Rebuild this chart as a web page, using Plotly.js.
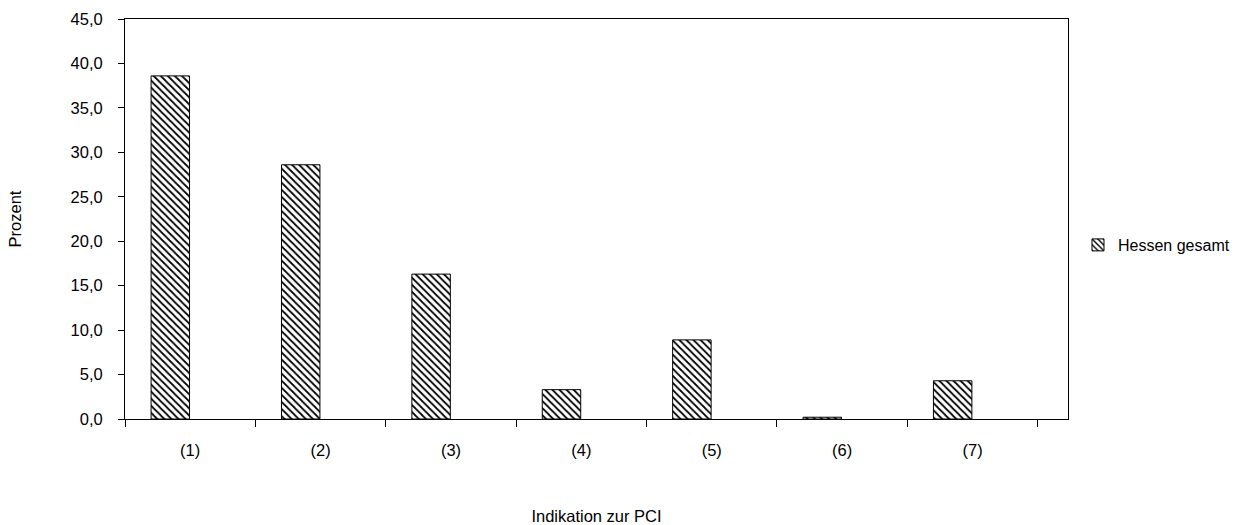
<!DOCTYPE html>
<html>
<head>
<meta charset="utf-8">
<script src="https://cdn.plot.ly/plotly-3.0.1.min.js"></script>
<style>html,body{margin:0;padding:0;background:#fff;}#chart{width:1245px;height:525px;}</style>
</head>
<body>
<div id="chart"></div>
<script>
const categories = ["(1)", "(2)", "(3)", "(4)", "(5)", "(6)", "(7)"];
const hessenGesamt = [38.6, 28.6, 16.3, 3.3, 8.9, 0.2, 4.3];
const seriesName = "Hessen gesamt";
const yTickValues = [0, 5, 10, 15, 20, 25, 30, 35, 40, 45];
const yTickLabels = ["0,0", "5,0", "10,0", "15,0", "20,0", "25,0", "30,0", "35,0", "40,0", "45,0"];

const font = {family: "Liberation Sans, Arial, sans-serif", size: 16.5, color: "#000"};

const trace = {
  type: "bar",
  x: categories,
  y: hessenGesamt,
  name: seriesName,
  showlegend: true,
  width: 0.295,
  offset: -0.3,
  marker: {
    color: "#fff",
    line: {color: "#000", width: 1},
    pattern: {shape: "\\", fgcolor: "#000", bgcolor: "#fff", size: 5, solidity: 0.35}
  },
  hoverinfo: "x+y"
};

const layout = {
  width: 1245, height: 525,
  margin: {l: 125, r: 177, t: 19, b: 106, autoexpand: false},
  paper_bgcolor: "#fff", plot_bgcolor: "#fff",
  font: font,
  showlegend: true,
  legend: {x: 1.0106, xanchor: "left", y: 0.435, yanchor: "middle", font: {family: font.family, size: 16, color: "#000"}, bgcolor: "rgba(0,0,0,0)"},
  xaxis: {
    type: "category",
    range: [-0.5, 6.732],
    showline: true, linecolor: "#000", linewidth: 1, mirror: true,
    ticks: "outside", ticklen: 7, tickcolor: "#000", tickson: "boundaries",
    ticklabelstandoff: 16,
    showgrid: false, zeroline: false,
    tickfont: font,
    title: {text: "Indikation zur PCI", font: font, standoff: 52}
  },
  yaxis: {
    range: [0, 45],
    tickvals: yTickValues, ticktext: yTickLabels,
    showline: true, linecolor: "#000", linewidth: 1, mirror: true,
    ticks: "outside", ticklen: 6, tickcolor: "#000",
    ticklabelstandoff: 12,
    showgrid: false, zeroline: false,
    tickfont: font,
    title: {text: "Prozent", font: font, standoff: 44}
  }
};

Plotly.newPlot("chart", [trace], layout, {displayModeBar: false, staticPlot: true});
</script>
</body>
</html>
